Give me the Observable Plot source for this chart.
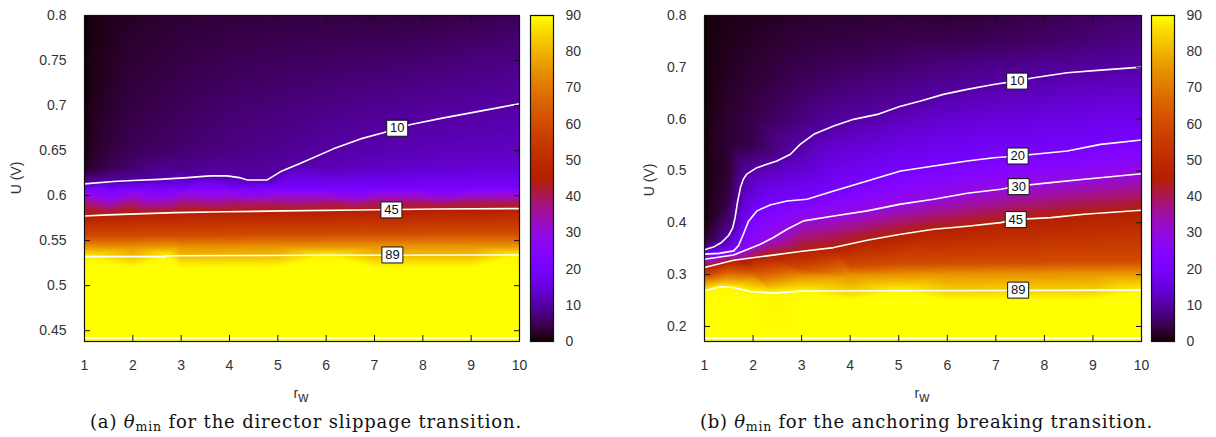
<!DOCTYPE html>
<html><head><meta charset="utf-8">
<script src="https://cdn.jsdelivr.net/npm/d3@7"></script>
<script src="https://cdn.jsdelivr.net/npm/@observablehq/plot@0.6"></script>
<style>
body{margin:0;background:#fff;}
#page{position:relative;width:1216px;height:437px;overflow:hidden;font-family:"Liberation Sans",Arial,sans-serif;color:#333;}
.pl{position:absolute;top:0;}
.cap{position:absolute;top:411px;font-family:"DejaVu Serif",serif;font-size:18px;line-height:22px;white-space:nowrap;color:#111;}
.cap sub{font-size:12.5px;vertical-align:-3px;line-height:0;}
.ylab{position:absolute;width:60px;height:20px;line-height:20px;text-align:center;font-size:14px;transform:rotate(-90deg);}
.xlab{position:absolute;width:60px;height:20px;line-height:20px;text-align:center;font-size:14px;}
.xlab sub{font-size:14px;vertical-align:-4px;line-height:0;}
</style></head><body><div id="page"></div>
<script>
// ---------- tick labels / ranges ----------
const rTicks = [1,2,3,4,5,6,7,8,9,10];
const uTicksA = [0.45,0.5,0.55,0.6,0.65,0.7,0.75,0.8];
const uTicksB = [0.2,0.3,0.4,0.5,0.6,0.7,0.8];
const cbTicks = [0,10,20,30,40,50,60,70,80,90];
const rDomain = [1,10];
const uDomainA = [0.438,0.8];
const uDomainB = [0.171,0.8];

// ---------- panel (a): contour lines [r_W, U] ----------
const a10 = [[1,0.613],[1.6,0.6156],[2,0.6167],[2.55,0.618],[3.13,0.620],[3.6,0.6219],[3.95,0.6219],[4.2,0.620],[4.37,0.6174],[4.78,0.6174],[5.06,0.6267],[5.47,0.636],[6.15,0.6519],[6.71,0.663],[7.2,0.670],[7.75,0.679],[8.43,0.6863],[8.99,0.6919],[9.6,0.698],[10,0.702]];
const a45 = [[1,0.5774],[1.49,0.5786],[2.09,0.5797],[2.88,0.5811],[3.88,0.582],[5.12,0.583],[6.67,0.5841],[8.3,0.5852],[10,0.5856]];
const a89 = [[1,0.5322],[2.69,0.5322],[2.7,0.5333],[6,0.5337],[10,0.5341]];
const a89edge = [[1,0.442],[10,0.442]];
// extra iso-levels (fill only)
const a20 = [[1,0.607],[2,0.607],[3,0.607],[4,0.6072],[5,0.6075],[6,0.6077],[7,0.608],[8,0.6083],[9,0.6087],[10,0.609]];
const a30 = [[1,0.601],[2,0.601],[3,0.601],[4,0.601],[5,0.601],[6,0.6012],[7,0.6014],[8,0.6016],[9,0.6018],[10,0.602]];
const a40 = [[1,0.589],[2,0.5893],[3,0.5897],[4,0.59],[5,0.5903],[6,0.5907],[7,0.591],[8,0.5913],[9,0.5917],[10,0.592]];
const a60 = [[1,0.555],[2,0.5555],[3,0.556],[4,0.5565],[5,0.557],[6,0.5575],[7,0.558],[8,0.5583],[9,0.5587],[10,0.559]];
const a75 = [[1,0.543],[2,0.543],[3,0.5432],[4,0.5434],[5,0.5436],[6,0.5437],[7,0.5438],[8,0.5439],[9,0.544],[10,0.544]];
const a90U = [0.52,0.438];
// upper region samples of theta
const gridR = [1,1.1,1.5,2,3,4,5,6,7,8,9,10];
const gridUA = [0.8,0.75,0.7,0.65,0.63];
const gridVA = [
  [0,0.8,1.5,2.2,3,3.4,3.7,3.8,3.7,3.8,4.2,5],
  [0,1,2,3,4,4.8,5.3,5.6,6,6.5,7.2,8],
  [0,1.3,2.5,3.8,5.2,6.3,7,7.8,8.5,9.2,9.7,10],
  [0.3,1.8,3.5,5,6.5,7.8,8.6,9.9,10.8,11.5,12,12.5],
  [1,3,5,6.5,8,9,9.7,11.5,12.5,13.5,14,14.5]
];
const labA = [10,45,89];
const labRA = [7.47,7.35,7.37];
const labUA = [0.6748,0.5841,0.5341];

// ---------- panel (b): contour lines ----------
const b10 = [[1,0.348],[1.2,0.354],[1.35,0.362],[1.5,0.376],[1.58,0.39],[1.63,0.41],[1.68,0.44],[1.74,0.468],[1.8,0.484],[1.87,0.494],[2.08,0.5064],[2.49,0.5193],[2.77,0.5322],[2.97,0.5514],[3.25,0.5707],[3.66,0.5867],[4.07,0.5996],[4.56,0.6092],[5.02,0.6245],[5.45,0.6349],[5.92,0.6478],[6.41,0.6574],[6.95,0.667],[7.41,0.6734],[7.78,0.6798],[8.47,0.6894],[9.16,0.6946],[10,0.7004]];
const b20 = [[1,0.3395],[1.3,0.341],[1.6,0.3459],[1.7,0.356],[1.8,0.378],[1.91,0.4037],[2.08,0.423],[2.35,0.4345],[2.7,0.4422],[3.11,0.4455],[3.66,0.4615],[4.35,0.4807],[5.04,0.5],[5.72,0.5096],[6.41,0.5193],[6.96,0.5256],[7.44,0.529],[7.79,0.5322],[8.47,0.5385],[9.16,0.5514],[10,0.5597]];
const b30 = [[1,0.3298],[1.6,0.338],[2.15,0.3588],[2.42,0.3716],[2.7,0.3876],[3.04,0.4037],[3.66,0.4133],[4.35,0.423],[5.04,0.436],[5.72,0.4455],[6.41,0.457],[7.1,0.4647],[7.47,0.471],[8.13,0.4775],[8.82,0.484],[10,0.4948]];
const b45 = [[1,0.3137],[1.6,0.3279],[2.29,0.3362],[2.97,0.3446],[3.66,0.3522],[4.35,0.3665],[5.04,0.378],[5.72,0.3877],[6.41,0.3935],[7.1,0.4004],[7.4,0.4062],[8.13,0.41],[8.82,0.4166],[10,0.4243]];
const b89 = [[1,0.2688],[1.32,0.2765],[1.6,0.2752],[1.94,0.2675],[2.42,0.2644],[2.97,0.2682],[5,0.269],[10,0.2701]];
const b89edge = [[1,0.1776],[10,0.1776]];
const b60 = [[1,0.300],[2,0.308],[3,0.312],[4,0.317],[5,0.322],[6,0.323],[7,0.324],[8,0.325],[9,0.326],[10,0.327]];
const b75 = [[1,0.286],[2,0.293],[3,0.296],[4,0.298],[5,0.300],[6,0.301],[7,0.302],[8,0.302],[9,0.303],[10,0.303]];
const b90U = [0.25,0.171];
const gridUB = [0.8,0.75,0.7,0.65,0.6,0.55,0.5,0.45,0.4,0.37];
const gridVB = [
  [0,0.8,1.2,1.6,2.5,3,3.2,2.8,3.6,4.6,5.6,6.5],
  [0,0.9,1.6,2.2,3.4,4,4.5,4.6,5.2,6,7,8],
  [0,1,2,2.8,4.5,5.5,6.5,7.5,8.5,9.2,9.7,null],
  [0,1.1,2.4,3.5,5.8,7.5,8.8,9.9,null,null,null,null],
  [0.1,1.3,2.9,4.3,7.2,9.9,null,null,null,null,null,null],
  [0.2,1.5,3,4.5,9.8,null,null,null,null,null,null,null],
  [0.2,1,3,null,null,null,null,null,null,null,null,null],
  [0.3,1.2,4,null,null,null,null,null,null,null,null,null],
  [0.5,2,7,null,null,null,null,null,null,null,null,null],
  [2,4,null,null,null,null,null,null,null,null,null,null]
];
const labB = [10,20,30,45,89];
const labRB = [7.44,7.45,7.47,7.41,7.46];
const labUB = [0.6734,0.5289,0.4698,0.4062,0.2701];

// ---------- build sample tables ----------
function addLine(arr, v, out){ for (const [r,u] of arr) out.push({r,u,v}); }
function addGrid(R, U, V, out){ U.forEach((u,i)=>R.forEach((r,j)=>{ const v=V[i][j]; if (v!=null) out.push({r,u,v}); })); }
const samplesA = [];
addLine(a10,10,samplesA); addLine(a20,20,samplesA); addLine(a30,30,samplesA); addLine(a40,40,samplesA);
addLine(a45,45,samplesA); addLine(a60,60,samplesA); addLine(a75,75,samplesA); addLine(a89,89,samplesA);
a90U.forEach(u=>rTicks.forEach(r=>samplesA.push({r,u,v:90})));
addGrid(gridR,gridUA,gridVA,samplesA);
const samplesB = [];
addLine(b10,10,samplesB); addLine(b20,20,samplesB); addLine(b30,30,samplesB); addLine(b45,45,samplesB);
addLine(b60,60,samplesB); addLine(b75,75,samplesB); addLine(b89,89,samplesB);
b90U.forEach(u=>rTicks.forEach(r=>samplesB.push({r,u,v:90})));
addGrid(gridR,gridUB,gridVB,samplesB);

// gnuplot default palette (rgbformulae 7,5,15)
const gp = t => { t = Math.max(0, Math.min(1, t)); return d3.rgb(255*Math.sqrt(t), 255*t*t*t, 255*Math.max(0, Math.sin(2*Math.PI*t))).formatRgb(); };
const colorOpt = {type:"linear", domain:[0,90], interpolate: gp};
const fmt = d => String(d);
const styleOpt = {fontFamily:"Liberation Sans, Arial, sans-serif", fontSize:"14px", color:"#333", background:"transparent", overflow:"visible"};
// rectangular label box symbol
const boxSymbol = {draw(ctx){ ctx.moveTo(-10.5,-8); ctx.lineTo(10.5,-8); ctx.lineTo(10.5,8); ctx.lineTo(-10.5,8); ctx.closePath(); }};

function panel(samples, uDomain, uTicks, lines, labs, labR, labU, width){
  const lineMarks = lines.map(a => Plot.line(a, {x:d=>d[0], y:d=>d[1], stroke:"white", strokeWidth:1.6}));
  const labData = labs.map((t,i)=>({t:String(t), r:labR[i], u:labU[i]}));
  return Plot.plot({
    width, height:405, marginLeft:84, marginRight:6, marginTop:15, marginBottom:64,
    x:{domain:rDomain}, y:{domain:uDomain},
    color: colorOpt, style: styleOpt,
    marks:[
      Plot.raster(samples, {x:"r", y:"u", fill:"v", interpolate:"barycentric"}),
      ...lineMarks,
      Plot.dot(labData, {x:"r", y:"u", r:5, symbol:boxSymbol, fill:"white", stroke:"#111", strokeWidth:1}),
      Plot.text(labData, {x:"r", y:"u", text:"t", fill:"#111", fontSize:13}),
      Plot.frame({stroke:"#111", strokeWidth:1.2}),
      Plot.axisX({anchor:"bottom", ticks:rTicks, tickSize:-6, tickPadding:25, tickFormat:fmt, label:null, stroke:"#111"}),
      Plot.axisX({anchor:"top", ticks:rTicks, tickSize:-6, tickFormat:()=>"", label:null, stroke:"#111"}),
      Plot.axisY({anchor:"left", ticks:uTicks, tickSize:-6, tickPadding:24, tickFormat:fmt, label:null, stroke:"#111"}),
      Plot.axisY({anchor:"right", ticks:uTicks, tickSize:-6, tickFormat:()=>"", label:null, stroke:"#111"})
    ]
  });
}
function colorbar(width, mr){
  return Plot.plot({
    width, height:405, marginLeft:10, marginRight:mr, marginTop:15, marginBottom:64,
    x:{domain:[0,1], axis:null}, y:{domain:[0,90]},
    color: colorOpt, style: styleOpt,
    marks:[
      Plot.raster({fill:(x,y)=>y, x1:0, x2:1, y1:0, y2:90}),
      Plot.frame({stroke:"#111", strokeWidth:1.2}),
      Plot.axisY({anchor:"right", ticks:cbTicks, tickSize:0, tickPadding:12, tickFormat:fmt, label:null})
    ]
  });
}

const page = document.getElementById("page");
function place(el, left){ el.classList.add("pl"); el.style.left = left+"px"; page.appendChild(el); }
place(panel(samplesA, uDomainA, uTicksA, [a10,a45,a89,a89edge], labA, labRA, labUA, 525), 0);
place(colorbar(80,47), 520);
place(panel(samplesB, uDomainB, uTicksB, [b10,b20,b30,b45,b89,b89edge], labB, labRB, labUB, 527), 620);
place(colorbar(75,42), 1141);

// axis titles and captions (HTML text)
function addDiv(cls, html, left, top){ const d=document.createElement("div"); d.className=cls; d.innerHTML=html; d.style.left=left+"px"; d.style.top=top+"px"; page.appendChild(d); return d; }
addDiv("ylab","U (V)",16-30,178-10);
addDiv("ylab","U (V)",649-30,180-10);
addDiv("xlab","r<sub>w</sub>",301-30,383);
addDiv("xlab","r<sub>w</sub>",922-30,383);
const capTexts = ["(a) <i>θ</i><sub>min</sub> for the director slippage transition.", "(b) <i>θ</i><sub>min</sub> for the anchoring breaking transition."];
const capLeft = [90, 700];
const capWidth = [432, 453];
capTexts.forEach((t,i)=>{
  const d = addDiv("cap", t, capLeft[i], 411);
  const w = d.getBoundingClientRect().width;
  const n = d.textContent.length;
  d.style.letterSpacing = ((capWidth[i]-w)/n) + "px";
});
</script></body></html>
